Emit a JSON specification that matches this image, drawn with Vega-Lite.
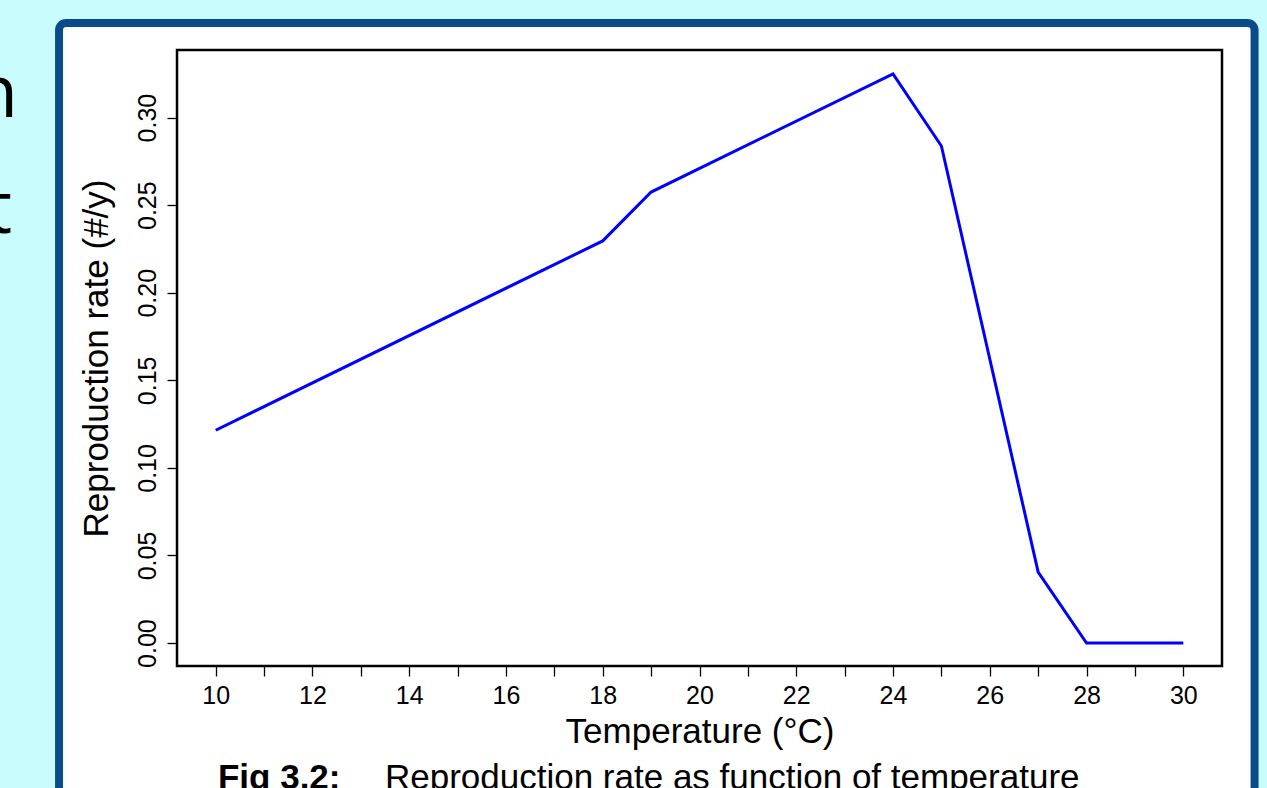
{
  "$schema": "https://vega.github.io/schema/vega-lite/v6.json",
  "width": 1045,
  "height": 616,
  "autosize": {"type": "none"},
  "padding": {"left": 177, "top": 50, "right": 45, "bottom": 122},
  "background": "#c8fcfd",
  "config": {
    "view": {"stroke": null},
    "font": "Liberation Sans"
  },
  "data": {
    "values": [
      {"temperature": 10, "rate": 0.1215},
      {"temperature": 18, "rate": 0.2296},
      {"temperature": 19, "rate": 0.2575},
      {"temperature": 24, "rate": 0.325},
      {"temperature": 25, "rate": 0.2838},
      {"temperature": 27, "rate": 0.0405},
      {"temperature": 28, "rate": 0},
      {"temperature": 30, "rate": 0}
    ]
  },
  "layer": [
    {
      "data": {"values": [{}]},
      "mark": {"type": "rect", "fill": "white", "stroke": "#0b4a8b", "strokeWidth": 8, "cornerRadius": 7, "clip": false},
      "encoding": {
        "x": {"datum": 6.762, "type": "quantitative", "scale": {"domain": [9.2, 30.8], "nice": false, "zero": false}},
        "x2": {"datum": 31.473},
        "y": {"datum": 0.354, "type": "quantitative", "scale": {"domain": [-0.0131, 0.3386], "nice": false, "zero": false}},
        "y2": {"datum": -0.0945}
      }
    },
    {
      "data": {"values": [{}]},
      "mark": {"type": "rect", "fillOpacity": 0, "stroke": "black", "strokeWidth": 2.5, "clip": false},
      "encoding": {
        "x": {"datum": 9.2, "type": "quantitative"},
        "x2": {"datum": 30.8},
        "y": {"datum": 0.3386, "type": "quantitative"},
        "y2": {"datum": -0.0131}
      }
    },
    {
      "mark": {"type": "line", "color": "#0000ff", "strokeWidth": 3, "clip": false},
      "encoding": {
        "x": {
          "field": "temperature",
          "type": "quantitative",
          "scale": {"domain": [9.2, 30.8], "nice": false, "zero": false},
          "axis": {
            "title": "Temperature (°C)",
            "values": [10, 11, 12, 13, 14, 15, 16, 17, 18, 19, 20, 21, 22, 23, 24, 25, 26, 27, 28, 29, 30],
            "format": "d",
            "labelExpr": "datum.value % 2 == 0 ? datum.label : ''",
            "domain": false,
            "grid": false,
            "ticks": true,
            "tickColor": "black",
            "tickSize": 10,
            "tickWidth": 1.3,
            "labelFontSize": 25,
            "labelColor": "black",
            "labelPadding": 7,
            "labelFlush": false,
            "labelOverlap": false,
            "titleFontSize": 35,
            "titleFontWeight": "normal",
            "titleColor": "black",
            "titlePadding": 6,
            "zindex": 1
          }
        },
        "y": {
          "field": "rate",
          "type": "quantitative",
          "scale": {"domain": [-0.0131, 0.3386], "nice": false, "zero": false},
          "axis": {
            "title": "Reproduction rate (#/y)",
            "values": [0, 0.05, 0.1, 0.15, 0.2, 0.25, 0.3],
            "format": ".2f",
            "labelAngle": -90,
            "labelAlign": "center",
            "labelBaseline": "alphabetic",
            "domain": false,
            "grid": false,
            "ticks": true,
            "tickColor": "black",
            "tickSize": 10,
            "tickWidth": 1.3,
            "labelFontSize": 25,
            "labelColor": "black",
            "labelPadding": 12,
            "labelFlush": false,
            "labelOverlap": false,
            "titleFontSize": 35,
            "titleFontWeight": "normal",
            "titleColor": "black",
            "titlePadding": 21,
            "zindex": 1
          }
        }
      }
    },
    {
      "data": {"values": [{}]},
      "mark": {"type": "text", "font": "Liberation Sans", "fontSize": 35, "fontWeight": "bold", "align": "left", "baseline": "alphabetic", "color": "black", "clip": false},
      "encoding": {
        "x": {"datum": 10.047, "type": "quantitative"},
        "y": {"datum": -0.0835, "type": "quantitative"},
        "text": {"value": "Fig 3.2:"}
      }
    },
    {
      "data": {"values": [{}]},
      "mark": {"type": "text", "font": "Liberation Sans", "fontSize": 35, "align": "left", "baseline": "alphabetic", "color": "black", "clip": false},
      "encoding": {
        "x": {"datum": 13.498, "type": "quantitative"},
        "y": {"datum": -0.0835, "type": "quantitative"},
        "text": {"value": "Reproduction rate as function of temperature"}
      }
    },
    {
      "data": {"values": [{}]},
      "mark": {"type": "text", "font": "Open Sans", "fontSize": 74, "align": "right", "baseline": "alphabetic", "color": "black", "clip": false},
      "encoding": {
        "x": {"datum": 5.915, "type": "quantitative"},
        "y": {"datum": 0.3004, "type": "quantitative"},
        "text": {"value": "n"}
      }
    },
    {
      "data": {"values": [{}]},
      "mark": {"type": "text", "font": "Open Sans", "fontSize": 74, "align": "right", "baseline": "alphabetic", "color": "black", "clip": false},
      "encoding": {
        "x": {"datum": 5.791, "type": "quantitative"},
        "y": {"datum": 0.2343, "type": "quantitative"},
        "text": {"value": "t"}
      }
    }
  ]
}
